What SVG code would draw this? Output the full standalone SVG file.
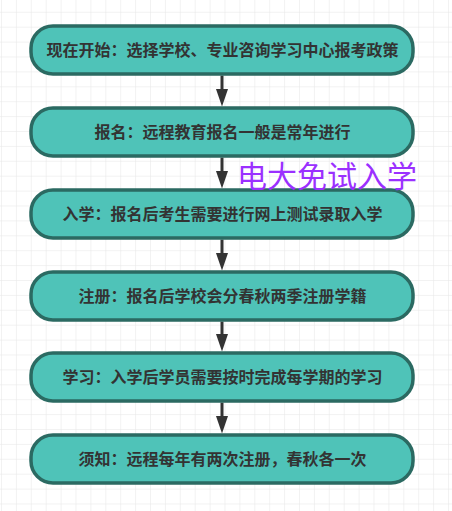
<svg xmlns="http://www.w3.org/2000/svg" width="452" height="511" viewBox="0 0 452 511">
<defs>
<pattern id="grid" x="1" y="11.8" width="14.9" height="14.9" patternUnits="userSpaceOnUse">
<path d="M0 0H14.9M0 0V14.9" fill="none" stroke="#e6e6e6" stroke-width="1"/>
</pattern>
</defs>
<style>
.node rect{fill:#4fc3b8;stroke:#2b6a62;stroke-width:3.5}
.node text{font-family:"Noto Sans CJK SC","Noto Sans",sans-serif;font-size:16px;font-weight:bold;fill:#333;text-anchor:middle}
.conn line{stroke:#333;stroke-width:3}
.conn path{fill:#333}
.note{font-family:"Noto Sans CJK SC","Noto Sans",sans-serif;font-size:30px;fill:#9b30ff}
</style>
<rect width="452" height="511" fill="#fff"/>
<rect width="452" height="511" fill="url(#grid)"/>
<g id="connectors" class="conn">
<line x1="222" y1="75.5" x2="222" y2="90"/>
<path d="M216 89L222 106.5L228 89Z"/>
<line x1="222" y1="157.5" x2="222" y2="172"/>
<path d="M216 171L222 188.5L228 171Z"/>
<line x1="222" y1="239.5" x2="222" y2="254"/>
<path d="M216 253L222 270.5L228 253Z"/>
<line x1="222" y1="321.5" x2="222" y2="335"/>
<path d="M216 334L222 351.5L228 334Z"/>
<line x1="222" y1="402.5" x2="222" y2="417"/>
<path d="M216 416L222 433.5L228 416Z"/>
</g>
<g id="n1" class="node"><rect x="31" y="26" width="382" height="48" rx="22"/><text x="222.5" y="56">现在开始：选择学校、专业咨询学习中心报考政策</text></g>
<g id="n2" class="node"><rect x="31" y="108" width="382" height="48" rx="22"/><text x="222.5" y="138">报名：远程教育报名一般是常年进行</text></g>
<g id="n3" class="node"><rect x="31" y="190" width="382" height="48" rx="22"/><text x="222.5" y="220">入学：报名后考生需要进行网上测试录取入学</text></g>
<g id="n4" class="node"><rect x="31" y="272" width="382" height="48" rx="22"/><text x="222.5" y="302">注册：报名后学校会分春秋两季注册学籍</text></g>
<g id="n5" class="node"><rect x="31" y="353" width="382" height="48" rx="22"/><text x="222.5" y="383">学习：入学后学员需要按时完成每学期的学习</text></g>
<g id="n6" class="node"><rect x="31" y="435" width="382" height="48" rx="22"/><text x="222.5" y="465">须知：远程每年有两次注册，春秋各一次</text></g>
<text class="note" x="237" y="187">电大免试入学</text>
</svg>
